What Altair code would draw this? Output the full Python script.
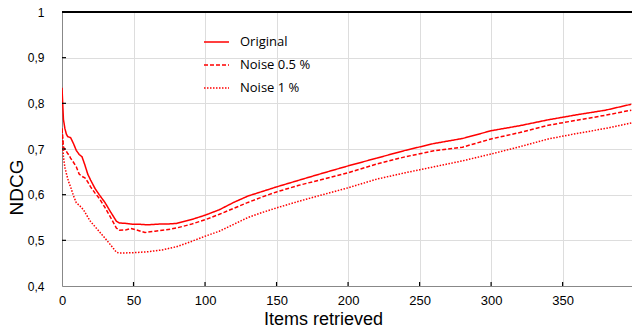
import altair as alt
import pandas as pd

# Items retrieved (x) and NDCG (y) for each retrieval setting
orig_x = [0, 1, 2, 3, 4, 5, 6, 8, 10, 12, 14, 16, 18, 20, 23, 26, 30, 34, 38, 40,
          45, 50, 55, 60, 65, 70, 75, 80, 90, 100, 110, 120, 130, 140, 150, 165,
          180, 200, 220, 240, 260, 280, 300, 320, 340, 360, 380, 398]
orig_y = [0.834, 0.765, 0.745, 0.733, 0.727, 0.726, 0.725, 0.712, 0.697, 0.688,
          0.683, 0.665, 0.645, 0.632, 0.614, 0.600, 0.583, 0.562, 0.542, 0.538,
          0.537, 0.535, 0.535, 0.534, 0.535, 0.536, 0.536, 0.537, 0.545, 0.555,
          0.567, 0.583, 0.597, 0.607, 0.617, 0.631, 0.645, 0.663, 0.680, 0.697,
          0.712, 0.723, 0.740, 0.751, 0.764, 0.775, 0.785, 0.798]

n05_x = [0, 1, 2, 3, 4, 5, 6, 8, 10, 12, 14, 16, 18, 20, 23, 26, 30, 34, 38, 40,
         45, 48, 52, 58, 65, 73, 80, 90, 100, 110, 120, 130, 140, 150, 165, 180,
         200, 220, 240, 260, 280, 300, 320, 340, 360, 380, 398]
n05_y = [0.745, 0.705, 0.698, 0.695, 0.690, 0.686, 0.680, 0.671, 0.661, 0.645,
         0.640, 0.637, 0.628, 0.617, 0.604, 0.592, 0.572, 0.550, 0.527, 0.522,
         0.523, 0.526, 0.523, 0.517, 0.520, 0.523, 0.527, 0.535, 0.545, 0.557,
         0.570, 0.583, 0.595, 0.606, 0.620, 0.632, 0.648, 0.667, 0.683, 0.696,
         0.704, 0.722, 0.736, 0.752, 0.763, 0.774, 0.785]

n1_x = [0, 1, 2, 3, 4, 5, 6, 8, 10, 12, 15, 18, 20, 25, 30, 35, 38, 40, 50, 60,
        70, 80, 90, 100, 110, 120, 130, 140, 150, 165, 180, 200, 220, 240, 260,
        280, 300, 320, 340, 360, 380, 398]
n1_y = [0.745, 0.683, 0.660, 0.647, 0.635, 0.625, 0.617, 0.598, 0.582, 0.577,
        0.567, 0.551, 0.541, 0.523, 0.505, 0.486, 0.474, 0.472, 0.473, 0.475,
        0.479, 0.486, 0.497, 0.509, 0.520, 0.535, 0.550, 0.561, 0.571, 0.585,
        0.598, 0.615, 0.634, 0.648, 0.661, 0.674, 0.689, 0.705, 0.722, 0.734,
        0.745, 0.757]

series_names = ["Original", "Noise 0.5 %", "Noise 1 %"]
series_dash = [[1, 0], [4, 2], [1.5, 1.5]]

y_ticks = [0.4, 0.5, 0.6, 0.7, 0.8, 0.9, 1.0]
x_ticks = [0, 50, 100, 150, 200, 250, 300, 350]

FONT = "Open Sans"
RED = "#ff0000"
W, H = 570, 274

df = pd.concat([
    pd.DataFrame({"items": orig_x, "ndcg": orig_y, "series": series_names[0]}),
    pd.DataFrame({"items": n05_x, "ndcg": n05_y, "series": series_names[1]}),
    pd.DataFrame({"items": n1_x, "ndcg": n1_y, "series": series_names[2]}),
])

x_scale = alt.Scale(domain=[0, 398.5], nice=False, zero=False)
y_scale = alt.Scale(domain=[0.4, 1.0], nice=False, zero=False)

lines = alt.Chart(df).mark_line(strokeWidth=1.5, color=RED, clip=True).encode(
    x=alt.X("items:Q", scale=x_scale,
            axis=alt.Axis(values=x_ticks, title="Items retrieved", format="d",
                          labelFontSize=13, labelPadding=8, tickSize=0,
                          labelFlush=False,
                          titleFontSize=18, titleFontWeight="normal",
                          titleX=261, titleY=38, titleBaseline="alphabetic")),
    y=alt.Y("ndcg:Q", scale=y_scale,
            axis=alt.Axis(values=y_ticks, title="NDCG",
                          labelExpr="datum.value == 1 ? '1' : replace(format(datum.value, '.1f'), '.', ',')",
                          labelFontSize=12, labelPadding=18, tickSize=0,
                          labelFlush=False,
                          titleFontSize=19, titleFontWeight="normal",
                          titleX=-36, titleY=175)),
    strokeDash=alt.StrokeDash("series:N",
                              scale=alt.Scale(domain=series_names, range=series_dash),
                              legend=None),
    detail="series:N",
)

# inward tick marks on both axes
ytick_layer = alt.Chart(pd.DataFrame({"v": y_ticks[1:-1]})).mark_rule(
    color="black", strokeWidth=1.2).encode(
    y=alt.Y("v:Q", scale=y_scale), x=alt.value(0), x2=alt.value(4))
xtick_layer = alt.Chart(pd.DataFrame({"v": x_ticks[1:]})).mark_rule(
    color="black", strokeWidth=1.2).encode(
    x=alt.X("v:Q", scale=x_scale), y=alt.value(H), y2=alt.value(H - 4))

# top frame line
top_rule = alt.Chart(pd.DataFrame({"v": [1.0]})).mark_rule(
    color="black", strokeWidth=2).encode(
    y=alt.Y("v:Q", scale=y_scale), x=alt.value(0), x2=alt.value(W))

# legend drawn inside the plot
legend_layers = []
for i, (name, dash) in enumerate(zip(series_names, series_dash)):
    row = pd.DataFrame({"series": [name]})
    ly = 30 + 23 * i
    legend_layers.append(
        alt.Chart(row).mark_rule(color=RED, strokeWidth=1.5, strokeDash=dash).encode(
            x=alt.value(142), x2=alt.value(167), y=alt.value(ly)))
    legend_layers.append(
        alt.Chart(row).mark_text(align="left", baseline="middle", fontSize=13,
                                 font=FONT, color="black").encode(
            x=alt.value(178), y=alt.value(ly), text="series:N"))

chart = alt.layer(lines, ytick_layer, xtick_layer, top_rule, *legend_layers).properties(
    width=W, height=H,
    autosize=alt.AutoSizeParams(type="none"),
    padding={"left": 62, "top": 12, "right": 0, "bottom": 43},
).configure_view(stroke=None).configure_axis(
    domainColor="black", domainWidth=2, grid=False,
    labelFont=FONT, titleFont=FONT, labelColor="black", titleColor="black",
).configure(background="white")

chart.save("out.html", embed_options={"renderer": "svg", "actions": False})
